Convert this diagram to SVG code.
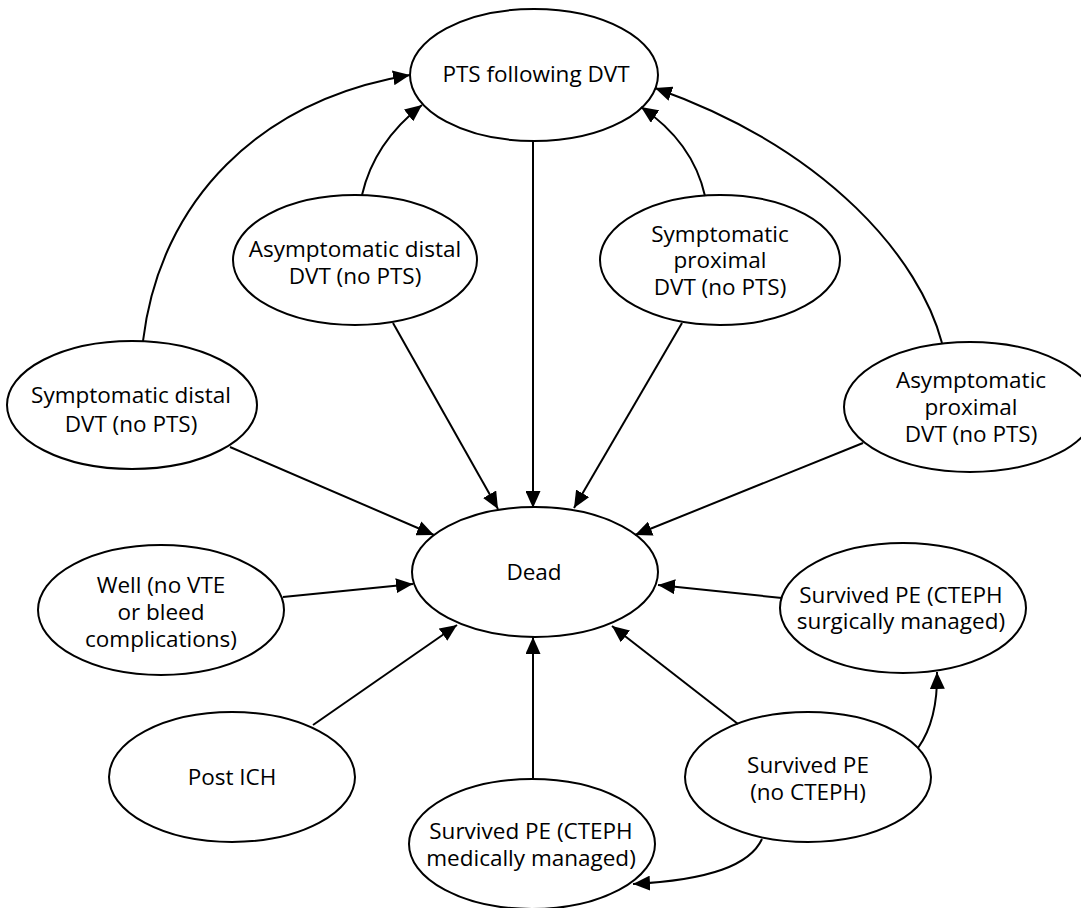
<svg xmlns="http://www.w3.org/2000/svg" width="1081" height="908" viewBox="0 0 1081 908">
<style>
.n ellipse{fill:#fff;stroke:#000;stroke-width:2}
.n text{font-family:"Open Sans","Noto Sans","Liberation Sans",sans-serif;font-size:22.5px;fill:#000;text-anchor:middle}
.c path{fill:none;stroke:#000;stroke-width:2;marker-end:url(#ah)}
</style>
<defs>
<marker id="ah" markerUnits="userSpaceOnUse" markerWidth="17" markerHeight="15" refX="17" refY="7.5" orient="auto">
<path d="M0,0 L17,7.5 L0,15 z" fill="#000"/>
</marker>
</defs>
<rect width="1081" height="908" fill="#fff"/>
<g id="pts" class="n"><ellipse cx="534" cy="75" rx="124" ry="66"/><text x="536" y="82">PTS following DVT</text></g>
<g id="dead" class="n"><ellipse cx="535" cy="572" rx="123" ry="65"/><text x="534" y="580">Dead</text></g>
<g id="symdist" class="n"><ellipse cx="132" cy="405" rx="125" ry="64"/><text x="131" y="403">Symptomatic distal</text><text x="131" y="432">DVT (no PTS)</text></g>
<g id="asymdist" class="n"><ellipse cx="355" cy="260" rx="122" ry="65"/><text x="355" y="257">Asymptomatic distal</text><text x="355" y="284">DVT (no PTS)</text></g>
<g id="symprox" class="n"><ellipse cx="720" cy="260" rx="120" ry="65"/><text x="720" y="242">Symptomatic</text><text x="720" y="268">proximal</text><text x="720" y="295">DVT (no PTS)</text></g>
<g id="asymprox" class="n"><ellipse cx="970" cy="407" rx="126" ry="65"/><text x="971" y="388">Asymptomatic</text><text x="971" y="415">proximal</text><text x="971" y="442">DVT (no PTS)</text></g>
<g id="well" class="n"><ellipse cx="161" cy="610" rx="123" ry="65"/><text x="161" y="593">Well (no VTE</text><text x="161" y="620">or bleed</text><text x="161" y="647">complications)</text></g>
<g id="surg" class="n"><ellipse cx="903" cy="608" rx="123" ry="65"/><text x="901" y="603">Survived PE (CTEPH</text><text x="901" y="629">surgically managed)</text></g>
<g id="ich" class="n"><ellipse cx="232" cy="777" rx="123" ry="65"/><text x="232" y="785">Post ICH</text></g>
<g id="noct" class="n"><ellipse cx="808" cy="777" rx="123" ry="65"/><text x="808" y="773">Survived PE</text><text x="808" y="800">(no CTEPH)</text></g>
<g id="med" class="n"><ellipse cx="532" cy="844" rx="123" ry="65"/><text x="531" y="839">Survived PE (CTEPH</text><text x="531" y="866">medically managed)</text></g>
<g id="connectors" class="c">
<path d="M533,141 L533,508"/>
<path d="M393,323 L498,509"/>
<path d="M682,323 L574,508"/>
<path d="M230,447 L434,535"/>
<path d="M863,443 L635,535"/>
<path d="M283,597 L413,584"/>
<path d="M782,598 L658,585"/>
<path d="M313,725 L457,625"/>
<path d="M533,779 L533,637"/>
<path d="M738,724 L612,626"/>
<path d="M143,341 C160,200 260,100 410,75"/>
<path d="M362,195 C370,160 390,130 422,105"/>
<path d="M705,196 C697,160 675,130 641,107"/>
<path d="M942,343 C920,260 830,150 655,88"/>
<path d="M918,748 Q938,720 937,672"/>
<path d="M762,839 C750,865 710,880 633,884"/>
</g>
</svg>
